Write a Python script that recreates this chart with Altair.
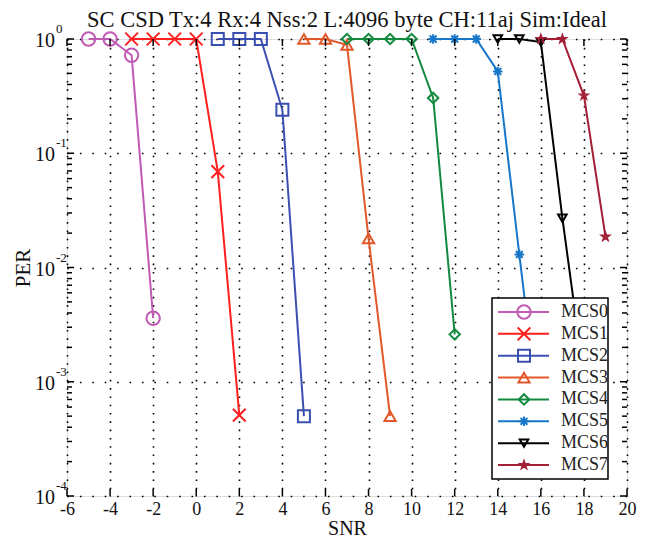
import altair as alt
import pandas as pd

# ---------------- data ----------------
series = ["MCS0", "MCS1", "MCS2", "MCS3", "MCS4", "MCS5", "MCS6", "MCS7"]

snr_mcs0 = [-5, -4, -3, -2]
per_mcs0 = [1, 1, 0.72, 0.0036]
snr_mcs1 = [-3, -2, -1, 0, 1, 2]
per_mcs1 = [1, 1, 1, 1, 0.069, 0.00051]
snr_mcs2 = [1, 2, 3, 4, 5]
per_mcs2 = [1, 1, 1, 0.24, 0.0005]
snr_mcs3 = [5, 6, 7, 8, 9]
per_mcs3 = [1, 1, 0.89, 0.018, 0.0005]
snr_mcs4 = [7, 8, 9, 10, 11, 12]
per_mcs4 = [1, 1, 1, 1, 0.305, 0.0026]
snr_mcs5 = [11, 12, 13, 14, 15, 16]
per_mcs5 = [1, 1, 1, 0.52, 0.013, 0.00035]
snr_mcs6 = [14, 15, 16, 17, 18]
per_mcs6 = [1, 1, 0.94, 0.027, 0.0011]
snr_mcs7 = [16, 17, 18, 19]
per_mcs7 = [1, 1, 0.32, 0.0186]

snr_all = [snr_mcs0, snr_mcs1, snr_mcs2, snr_mcs3, snr_mcs4, snr_mcs5, snr_mcs6, snr_mcs7]
per_all = [per_mcs0, per_mcs1, per_mcs2, per_mcs3, per_mcs4, per_mcs5, per_mcs6, per_mcs7]

x_ticks = [-6, -4, -2, 0, 2, 4, 6, 8, 10, 12, 14, 16, 18, 20]
y_exps = [0, -1, -2, -3, -4]

title_text = "SC CSD Tx:4 Rx:4 Nss:2 L:4096 byte CH:11aj Sim:Ideal"

# ---------------- styles ----------------
colors = ["#c05ab4", "#ff1f1f", "#3a4fb0", "#e2582a", "#138a3e", "#1776c8", "#000000", "#a31f36"]
CROSS = "M-1,-1L1,1M-1,1L1,-1"
ASTER = "M-1,0L1,0M0,-1L0,1M-0.72,-0.72L0.72,0.72M-0.72,0.72L0.72,-0.72"
STAR = ("M0,-1L0.235,-0.324L0.951,-0.309L0.38,0.124L0.588,0.809L0,0.4"
        "L-0.588,0.809L-0.38,0.124L-0.951,-0.309L-0.235,-0.324Z")
shapes = ["circle", CROSS, "square", "triangle-up", "diamond", ASTER, "triangle-down", STAR]
sizes = [180, 55, 125, 180, 200, 150, 180, 170]

FONT = "Liberation Serif"
W, H = 560, 457

rows = []
for name, xs, ys in zip(series, snr_all, per_all):
    for x, y in zip(xs, ys):
        rows.append({"series": name, "snr": x, "per": y})
df = pd.DataFrame(rows)

x_enc = alt.X(
    "snr:Q",
    scale=alt.Scale(domain=[-6, 20], nice=False, zero=False),
    axis=alt.Axis(
        values=x_ticks, grid=True, gridColor="black", gridWidth=1.6,
        gridDash=[1.6, 6.7], ticks=False, domain=False,
        labelExpr="'' + datum.value",
        labelFont=FONT, labelFontSize=18, labelColor="#111", labelPadding=4,
        labelFlush=False,
        title="SNR", titleFont=FONT, titleFontSize=20, titleFontWeight="normal",
        titleColor="#111", titlePadding=0,
    ),
)
y_enc = alt.Y(
    "per:Q",
    scale=alt.Scale(type="log", domain=[1e-4, 1], nice=False),
    axis=alt.Axis(
        values=[10.0 ** e for e in y_exps], grid=True, gridColor="black",
        gridWidth=1.6, gridDash=[1.6, 10.8], ticks=False, domain=False,
        labels=False, title="PER", titleFont=FONT, titleFontSize=21,
        titleFontWeight="normal", titleColor="#111", titlePadding=34,
    ),
)
color_enc = alt.Color("series:N", scale=alt.Scale(domain=series, range=colors), legend=None)
shape_enc = alt.Shape("series:N", scale=alt.Scale(domain=series, range=shapes), legend=None)
size_enc = alt.Size("series:N", scale=alt.Scale(domain=series, range=sizes), legend=None)

base = alt.Chart(df)
lines = base.mark_line(strokeWidth=2, clip=False).encode(
    x=x_enc, y=y_enc, color=color_enc, order="snr:Q"
)
points = base.mark_point(filled=False, strokeWidth=2, opacity=1, clip=False).encode(
    x=x_enc, y=y_enc, color=color_enc, shape=shape_enc, size=size_enc
)

# inward ticks
xt_df = pd.DataFrame({"snr": x_ticks})
xt_bot = alt.Chart(xt_df).mark_rule(color="black", strokeWidth=1.5).encode(
    x=x_enc, y=alt.value(H), y2=alt.value(H - 7))
xt_top = alt.Chart(xt_df).mark_rule(color="black", strokeWidth=1.5).encode(
    x=x_enc, y=alt.value(0), y2=alt.value(7))

major_df = pd.DataFrame({"per": [10.0 ** e for e in y_exps]})
minor_vals = []
for e in [-4, -3, -2, -1]:
    for m in range(2, 10):
        minor_vals.append(m * 10.0 ** e)
minor_df = pd.DataFrame({"per": minor_vals})

yt_layers = []
for d, ln in [(major_df, 7), (minor_df, 5)]:
    yt_layers.append(alt.Chart(d).mark_rule(color="black", strokeWidth=1.5).encode(
        y=y_enc, x=alt.value(0), x2=alt.value(ln)))
    yt_layers.append(alt.Chart(d).mark_rule(color="black", strokeWidth=1.5).encode(
        y=y_enc, x=alt.value(W), x2=alt.value(W - ln)))

# y labels as 10^e
ylab_df = pd.DataFrame({
    "per": [10.0 ** e for e in y_exps],
    "base": ["10"] * len(y_exps),
    "exp": [str(e) for e in y_exps],
})
ylab_base = alt.Chart(ylab_df).mark_text(
    align="right", baseline="alphabetic", font=FONT, fontSize=20, color="#111", dy=8
).encode(y=y_enc, x=alt.value(-12), text="base:N")
ylab_exp = alt.Chart(ylab_df).mark_text(
    align="left", baseline="alphabetic", font=FONT, fontSize=13, color="#111", dy=-6
).encode(y=y_enc, x=alt.value(-11), text="exp:N")

# chart title as text
title_mark = alt.Chart(alt.Data(values=[{"t": title_text}])).mark_text(
    align="center", baseline="alphabetic", font=FONT, fontSize=22.5, color="#111"
).encode(x=alt.value(W / 2), y=alt.value(-12), text="t:N")

main = alt.layer(lines, points, xt_bot, xt_top, *yt_layers, ylab_base, ylab_exp, title_mark)

# legend (manual, MATLAB-like)
leg_df = pd.DataFrame({"series": series, "row": list(range(len(series)))})
leg_y = alt.Y("row:Q", scale=alt.Scale(domain=[0, 7], range=[273, 426]), axis=None)
leg_box = alt.Chart(alt.Data(values=[{"k": 1}])).mark_rect(
    fill="white", stroke="black", strokeWidth=1.5
).encode(x=alt.value(425), x2=alt.value(541), y=alt.value(259), y2=alt.value(440))
leg_lines = alt.Chart(leg_df).mark_rule(strokeWidth=2).encode(
    x=alt.value(431), x2=alt.value(482), y=leg_y, color=color_enc)
leg_pts = alt.Chart(leg_df).mark_point(filled=False, strokeWidth=2, opacity=1).encode(
    x=alt.value(457), y=leg_y, color=color_enc, shape=shape_enc, size=size_enc)
leg_txt = alt.Chart(leg_df).mark_text(
    align="left", baseline="middle", font=FONT, fontSize=18, color="#222"
).encode(x=alt.value(494), y=leg_y, text="series:N")
legend = alt.layer(leg_box, leg_lines, leg_pts, leg_txt)

chart = alt.layer(main, legend).resolve_scale(y="independent").properties(
    width=W, height=H,
    autosize="none",
    padding={"left": 59, "top": 31, "right": 12, "bottom": 43},
).configure_view(stroke="black", strokeWidth=2).configure(background="white")

chart.save("out.html", embed_options={"renderer": "svg", "actions": False})
